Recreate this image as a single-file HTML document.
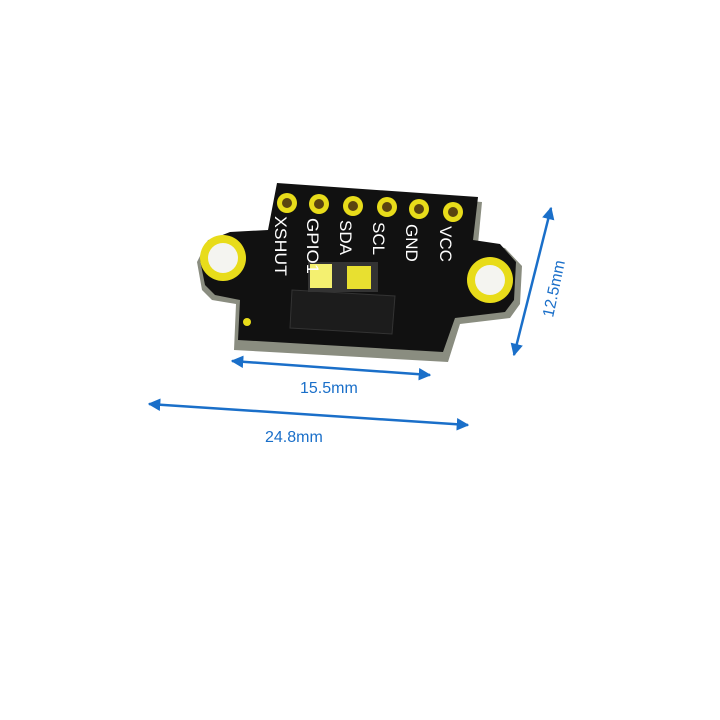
<!DOCTYPE html>
<html><head><style>html,body{margin:0;padding:0;background:#fff;width:720px;height:720px;overflow:hidden}</style></head>
<body>
<svg width="720" height="720" viewBox="0 0 720 720" xmlns="http://www.w3.org/2000/svg">
<defs>
<marker id="ah" viewBox="0 0 10 10" refX="9" refY="5" markerWidth="5" markerHeight="5" orient="auto-start-reverse"><path d="M0,0 L10,5 L0,10 z" fill="#1a6fc9"/></marker>
</defs>
<polygon points="279,188 482,202 478,244 505,248 522,266 520,304 510,318 460,324 448,362 234,350 236,304 212,300 202,290 197,262 208,240 230,236 270,234" fill="#8a8d80"/>
<polygon points="277,183 478,197 473,240 500,244 516,262 514,300 505,312 455,318 443,352 238,340 240,300 215,295 205,285 200,260 210,240 230,232 268,230" fill="#111"/>
<circle cx="223" cy="258" r="23" fill="#e8dc1a"/><circle cx="223" cy="258" r="15" fill="#f4f4f0"/>
<circle cx="490" cy="280" r="23" fill="#e8dc1a"/><circle cx="490" cy="280" r="15" fill="#f4f4f0"/>
<g fill="#e8dc1a">
<circle cx="287" cy="203" r="10"/><circle cx="319" cy="204" r="10"/><circle cx="353" cy="206" r="10"/>
<circle cx="387" cy="207" r="10"/><circle cx="419" cy="209" r="10"/><circle cx="453" cy="212" r="10"/>
</g>
<g fill="#5a4410">
<circle cx="287" cy="203" r="5"/><circle cx="319" cy="204" r="5"/><circle cx="353" cy="206" r="5"/>
<circle cx="387" cy="207" r="5"/><circle cx="419" cy="209" r="5"/><circle cx="453" cy="212" r="5"/>
</g>
<polygon points="292,290 395,296 392,334 290,328" fill="#1c1c1c" stroke="#333" stroke-width="1"/>
<rect x="308" y="262" width="70" height="30" fill="#333"/>
<rect x="310" y="264" width="22" height="24" fill="#f4f070"/>
<rect x="347" y="266" width="24" height="23" fill="#e8e030"/>
<circle cx="247" cy="322" r="4" fill="#e8dc1a"/>
<g fill="#fff" font-family="Liberation Sans, sans-serif" font-size="17">
<text transform="translate(275,216) rotate(90)" textLength="60" lengthAdjust="spacingAndGlyphs">XSHUT</text>
<text transform="translate(307,218) rotate(90)" textLength="56" lengthAdjust="spacingAndGlyphs">GPIO1</text>
<text transform="translate(340,220) rotate(90)">SDA</text>
<text transform="translate(373,222) rotate(90)">SCL</text>
<text transform="translate(406,224) rotate(90)">GND</text>
<text transform="translate(440,226) rotate(90)">VCC</text>
</g>
<g stroke="#1a6fc9" stroke-width="2.5" fill="none">
<line x1="232" y1="361" x2="430" y2="375" marker-start="url(#ah)" marker-end="url(#ah)"/>
<line x1="149" y1="404" x2="468" y2="425" marker-start="url(#ah)" marker-end="url(#ah)"/>
<line x1="551" y1="208" x2="514" y2="355" marker-start="url(#ah)" marker-end="url(#ah)"/>
</g>
<g fill="#1a6fc9" font-family="Liberation Sans, sans-serif" font-size="16">
<text x="300" y="393">15.5mm</text>
<text x="265" y="442">24.8mm</text>
<text transform="translate(553,318) rotate(-78)">12.5mm</text>
</g>
</svg>
</body></html>
